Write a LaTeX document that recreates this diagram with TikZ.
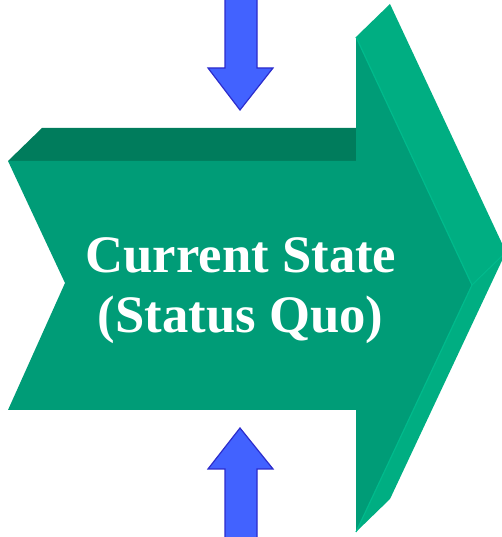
\documentclass[tikz,border=0pt]{standalone}
\usepackage{fontspec}
\setmainfont{Liberation Serif}
\definecolor{frontgreen}{HTML}{009C77}
\definecolor{topgreen}{HTML}{007C5C}
\definecolor{sidegreen}{HTML}{00AE82}
\definecolor{edgegreen}{HTML}{00BA8C}
\definecolor{arrowblue}{HTML}{4262FF}
\definecolor{arrowedge}{HTML}{2C2CCC}
\tikzset{
  face/.style={line join=miter},
  bluearrow/.style={fill=arrowblue, draw=arrowedge, line width=1.2pt, line join=miter},
  label/.style={text=white, font=\fontsize{52.7}{60}\selectfont\bfseries, anchor=base, inner sep=0pt}
}
\begin{document}
\begin{tikzpicture}[x=1pt,y=1pt]
\useasboundingbox (0,0) rectangle (502,537);
\clip (0,0) rectangle (502,537);
% top dark band
\fill[topgreen, face] (8,376) -- (42,409) -- (356,409) -- (356,376) -- cycle;
% right bevels
\fill[sidegreen, face] (356,500) -- (390,533) -- (506,285) -- (472,252) -- cycle;
\fill[sidegreen, face] (472,252) -- (506,285) -- (390,38) -- (356,5) -- cycle;
% front face
\fill[frontgreen, face] (8,376) -- (356,376) -- (356,500) -- (472,252) -- (356,5)
  -- (356,127) -- (8,127) -- (65,254) -- cycle;
% highlight edges
\draw[edgegreen, line width=1.2pt] (356,500) -- (472,252) -- (356,5);
\draw[edgegreen, line width=1pt] (472,252) -- (506,285);
% blue arrows
\draw[bluearrow] (225,540) -- (225,469) -- (208,469) -- (240,427) -- (273,469)
  -- (257,469) -- (257,540);
\draw[bluearrow] (225,-3) -- (225,68) -- (208,68) -- (240,109) -- (273,68)
  -- (257,68) -- (257,-3);
% text
\node[label] (l1) at (241,264) {Current State};
\node[label] (l2) at (240.5,204) {(Status Quo)};
\end{tikzpicture}
\end{document}
